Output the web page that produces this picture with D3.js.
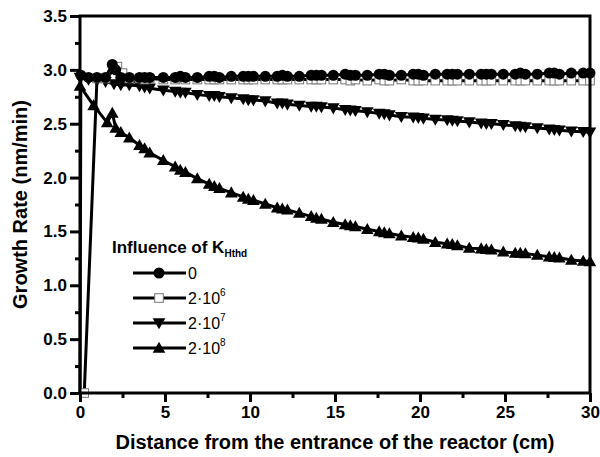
<!DOCTYPE html>
<html>
<head>
<meta charset="utf-8">
<script src="https://cdn.jsdelivr.net/npm/d3@7"></script>
<style>
  html, body { margin: 0; padding: 0; background: #fff; }
  svg { display: block; font-family: "Liberation Sans", Arial, sans-serif; }
</style>
</head>
<body>
<svg id="chart" width="600" height="457"></svg>
<script>
// ---------------- data ----------------
const xGrid = [2.9, 3.5, 3.8, 4.1, 4.9, 5.6, 5.9, 6.2, 6.9, 7.6, 7.9, 8.2, 8.9, 9.6, 9.9, 10.2, 10.9, 11.6, 11.9, 12.2,
  12.9, 13.6, 13.9, 14.2, 14.9, 15.6, 15.9, 16.2, 16.9, 17.6, 17.9, 18.2, 18.9, 19.6, 19.9, 20.2, 20.9, 21.6, 21.9, 22.2,
  22.9, 23.6, 23.9, 24.2, 24.9, 25.6, 25.9, 26.2, 26.9, 27.6, 27.9, 28.2, 28.9, 29.6, 30.0];

// K = 0 (filled circles)
const k0StartX = [0.05, 0.5, 1.0, 1.5, 1.9, 2.1, 2.4];
const k0StartY = [2.95, 2.93, 2.93, 2.93, 3.05, 3.00, 2.93];
const k0Y = [2.93, 2.93, 2.93, 2.93, 2.93, 2.93, 2.94, 2.93, 2.93, 2.94, 2.94, 2.93, 2.94, 2.94, 2.94, 2.94, 2.94, 2.94, 2.95, 2.94,
  2.94, 2.95, 2.95, 2.95, 2.95, 2.96, 2.95, 2.95, 2.95, 2.96, 2.96, 2.95, 2.95, 2.96, 2.96, 2.95, 2.96, 2.96, 2.96, 2.96,
  2.96, 2.96, 2.96, 2.96, 2.96, 2.96, 2.97, 2.96, 2.96, 2.97, 2.97, 2.96, 2.97, 2.97, 2.97];
const k0LineOnly = [[0, 0]];

// K = 2e6 (open squares)
const k6StartX = [0.25, 1.0, 1.5, 2.2, 2.5];
const k6StartY = [0.0, 2.92, 2.92, 3.03, 2.97];
const k6Y = [2.92, 2.92, 2.91, 2.92, 2.91, 2.91, 2.92, 2.91, 2.91, 2.91, 2.91, 2.91, 2.91, 2.91, 2.91, 2.91, 2.91, 2.91, 2.91, 2.91,
  2.91, 2.91, 2.91, 2.91, 2.91, 2.91, 2.90, 2.91, 2.90, 2.91, 2.90, 2.90, 2.91, 2.90, 2.90, 2.90, 2.90, 2.90, 2.90, 2.90,
  2.90, 2.90, 2.90, 2.90, 2.90, 2.90, 2.90, 2.90, 2.90, 2.90, 2.90, 2.90, 2.90, 2.90, 2.90];

// K = 2e7 (down triangles)
const k7StartX = [0, 0.5, 1.0, 1.5, 2.0, 2.4];
const k7StartY = [2.93, 2.91, 2.90, 2.89, 2.87, 2.86];
const k7Y = [2.86, 2.85, 2.84, 2.83, 2.81, 2.80, 2.79, 2.79, 2.77, 2.76, 2.76, 2.75, 2.74, 2.73, 2.72, 2.72, 2.71, 2.69, 2.69, 2.68,
  2.67, 2.66, 2.66, 2.655, 2.645, 2.63, 2.625, 2.62, 2.61, 2.595, 2.59, 2.58, 2.565, 2.56, 2.555, 2.55, 2.54, 2.535, 2.53, 2.525,
  2.515, 2.505, 2.50, 2.50, 2.49, 2.48, 2.475, 2.47, 2.46, 2.45, 2.445, 2.44, 2.43, 2.425, 2.42];

// K = 2e8 (up triangles)
const k8StartX = [0, 0.8, 1.6, 1.9, 2.1, 2.4];
const k8StartY = [2.85, 2.67, 2.51, 2.60, 2.46, 2.42];
const k8Y = [2.37, 2.30, 2.27, 2.23, 2.16, 2.10, 2.07, 2.05, 1.99, 1.94, 1.92, 1.90, 1.86, 1.82, 1.80, 1.79, 1.755, 1.72, 1.71, 1.70,
  1.67, 1.64, 1.625, 1.615, 1.585, 1.565, 1.555, 1.545, 1.52, 1.50, 1.49, 1.48, 1.46, 1.445, 1.44, 1.43, 1.40, 1.385, 1.38, 1.37,
  1.345, 1.34, 1.335, 1.33, 1.31, 1.30, 1.30, 1.295, 1.28, 1.265, 1.26, 1.255, 1.235, 1.225, 1.22];

const legendTitle = "Influence of K";
const legendSub = "Hthd";
const legendLabels = [["0", ""], ["2·10", "6"], ["2·10", "7"], ["2·10", "8"]];
const xTicks = [0, 5, 10, 15, 20, 25, 30];
const yTicks = [0.0, 0.5, 1.0, 1.5, 2.0, 2.5, 3.0, 3.5];
const xTitle = "Distance from the entrance of the reactor (cm)";
const yTitle = "Growth Rate (nm/min)";

// ---------------- build ----------------
const svg = d3.select("#chart");
const L = 80, R = 590, T = 16, B = 393;
const x = d3.scaleLinear().domain([0, 30]).range([L, R]);
const y = d3.scaleLinear().domain([0, 3.5]).range([B, T]);

function pts(sx, sy, gx, gy) {
  const out = sx.map((v, i) => [v, sy[i]]);
  return out.concat(gx.map((v, i) => [v, gy[i]]));
}
const series = [
  { key: "k8", pts: pts(k8StartX, k8StartY, xGrid, k8Y), pre: [], sym: "up" },
  { key: "k7", pts: pts(k7StartX, k7StartY, xGrid, k7Y), pre: [], sym: "down" },
  { key: "k6", pts: pts(k6StartX, k6StartY, xGrid, k6Y), pre: [], sym: "square" },
  { key: "k0", pts: pts(k0StartX, k0StartY, xGrid, k0Y), pre: k0LineOnly, sym: "circle" },
];

const line = d3.line().x(d => x(d[0])).y(d => y(d[1]));

function drawMarker(g, sym, cx, cy, s) {
  s = s || 1;
  if (sym === "circle") {
    g.append("circle").attr("cx", cx).attr("cy", cy).attr("r", 5.5 * s).attr("fill", "#000");
  } else if (sym === "square") {
    const h = 4.3 * s;
    g.append("rect").attr("x", cx - h).attr("y", cy - h).attr("width", 2 * h).attr("height", 2 * h)
      .attr("fill", "#fff").attr("stroke", "#777").attr("stroke-width", 1);
  } else if (sym === "up") {
    const a = 6.3 * s;
    g.append("path").attr("d", `M${cx},${cy - a}L${cx + a},${cy + a * 0.75}L${cx - a},${cy + a * 0.75}Z`).attr("fill", "#000");
  } else if (sym === "down") {
    const a = 6.3 * s;
    g.append("path").attr("d", `M${cx},${cy + a}L${cx + a},${cy - a * 0.75}L${cx - a},${cy - a * 0.75}Z`).attr("fill", "#000");
  }
}

const plot = svg.append("g");
series.forEach(s => {
  plot.append("path").attr("d", line(s.pre.concat(s.pts))).attr("fill", "none")
    .attr("stroke", "#000").attr("stroke-width", 3).attr("stroke-linejoin", "round");
});
series.forEach(s => {
  const g = plot.append("g");
  s.pts.forEach(p => drawMarker(g, s.sym, x(p[0]), y(p[1])));
});

// axes
const xAxis = d3.axisBottom(x).tickValues(xTicks).tickSize(9).tickFormat(d3.format("d"));
const xMinor = d3.axisBottom(x).tickValues([2.5, 7.5, 12.5, 17.5, 22.5, 27.5]).tickSize(5).tickFormat("");
const yAxis = d3.axisLeft(y).tickValues(yTicks).tickSize(10).tickFormat(d3.format(".1f"));
const yMinor = d3.axisLeft(y).tickValues([0.25, 0.75, 1.25, 1.75, 2.25, 2.75, 3.25]).tickSize(5).tickFormat("");

function styleAxis(g) {
  g.select(".domain").remove();
  g.selectAll("line").attr("stroke", "#000").attr("stroke-width", 3);
  g.selectAll("text").attr("font-size", 17).attr("font-weight", "bold").attr("fill", "#000")
    .attr("font-family", "'Liberation Sans', Arial, sans-serif");
}
svg.append("g").attr("transform", `translate(0,${B})`).call(xAxis).call(styleAxis)
  .selectAll("text").attr("dy", "0.9em").attr("y", 10);
svg.append("g").attr("transform", `translate(0,${B})`).call(xMinor).call(styleAxis);
svg.append("g").attr("transform", `translate(${L},0)`).call(yAxis).call(styleAxis)
  .selectAll("text").attr("x", -13);
svg.append("g").attr("transform", `translate(${L},0)`).call(yMinor).call(styleAxis);

// frame
svg.append("rect").attr("x", L).attr("y", T).attr("width", R - L).attr("height", B - T)
  .attr("fill", "none").attr("stroke", "#000").attr("stroke-width", 3);

// titles
svg.append("text").attr("x", 335).attr("y", 449).attr("text-anchor", "middle")
  .attr("font-size", 20).attr("font-weight", "bold").text(xTitle);
svg.append("text").attr("transform", `translate(27,${(T + B) / 2}) rotate(-90)`).attr("text-anchor", "middle")
  .attr("font-size", 20).attr("font-weight", "bold").text(yTitle);

// legend
const lg = svg.append("g");
const lt = lg.append("text").attr("x", 112).attr("y", 253).attr("font-size", 17).attr("font-weight", "bold");
lt.append("tspan").text(legendTitle);
lt.append("tspan").attr("font-size", 10).attr("dy", 4).text(legendSub);
const legendSyms = ["circle", "square", "down", "up"];
legendLabels.forEach((lab, i) => {
  const yy = 273 + i * 25;
  lg.append("line").attr("x1", 133).attr("x2", 186).attr("y1", yy).attr("y2", yy)
    .attr("stroke", "#000").attr("stroke-width", 3);
  drawMarker(lg, legendSyms[i], 159, yy, 1);
  const t = lg.append("text").attr("x", 188).attr("y", yy + 6).attr("font-size", 16);
  t.append("tspan").text(lab[0]);
  if (lab[1]) t.append("tspan").attr("font-size", 10).attr("dy", -8).text(lab[1]);
});
</script>
</body>
</html>
